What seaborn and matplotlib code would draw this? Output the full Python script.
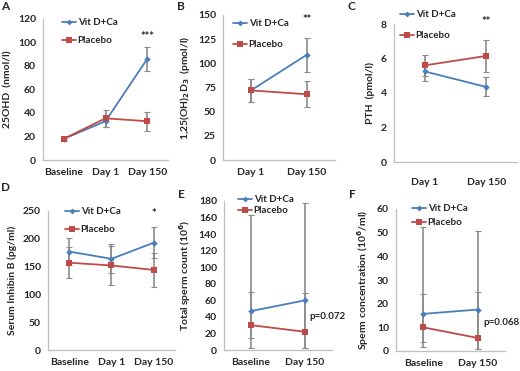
import numpy as np
import pandas as pd
import seaborn as sns
import matplotlib.pyplot as plt
from matplotlib.lines import Line2D

sns.set_style("white")
plt.rcParams['font.family'] = ['Lato', 'DejaVu Sans']
plt.rcParams['font.weight'] = 'bold'
plt.rcParams['axes.labelweight'] = 'bold'
plt.rcParams['mathtext.default'] = 'bf'

BLUE = '#4a7ebb'
RED = '#be4b48'
GREY = '#8c8c8c'
SPINE = '#bfbfbf'

# A - 25OHD
a_days = ['Baseline', 'Day 1', 'Day 150']
a_vit = [18, 33, 86]
a_vit_err = [2, 5, 10.5]
a_plc = [18, 35.5, 33]
a_plc_err = [2, 7, 8]

# B - 1,25(OH)2D3
b_days = ['Day 1', 'Day 150']
b_vit = [72, 109]
b_vit_err = [12, 17.5]
b_plc = [72, 68]
b_plc_err = [12, 13.5]

# C - PTH
c_days = ['Day 1', 'Day 150']
c_vit = [5.25, 4.35]
c_vit_err = [0.55, 0.55]
c_plc = [5.6, 6.15]
c_plc_err = [0.6, 0.95]

# D - Inhibin B
d_days = ['Baseline', 'Day 1', 'Day 150']
d_vit = [177, 164, 193]
d_vit_err = [25, 26, 28]
d_plc = [157, 152, 144]
d_plc_err = [28, 35, 30]

# E - total sperm count (asymmetric bars)
e_days = ['Baseline', 'Day 150']
e_vit = [47, 60]
e_vit_lo = [3, 3]
e_vit_hi = [163, 177]
e_plc = [30, 22]
e_plc_lo = [15, 3]
e_plc_hi = [70, 69]

# F - sperm concentration (asymmetric bars)
f_days = ['Baseline', 'Day 150']
f_vit = [15.7, 17.5]
f_vit_lo = [1.5, 1]
f_vit_hi = [52.5, 50.5]
f_plc = [10, 5.5]
f_plc_lo = [4, 1]
f_plc_hi = [24, 25]

fig = plt.figure(figsize=(5.2, 3.71), dpi=100)
W, H = 520, 371
FS = 7.5
LFS = 7


def px_axes(x0, y0, x1, y1):
    return fig.add_axes([x0 / W, 1 - y1 / H, (x1 - x0) / W, (y1 - y0) / H])


def panel(ax, days, vit, vit_lo, vit_hi, plc, plc_lo, plc_hi, ymax, ystep, ylabel,
          leg_xy, leg_space, xpad=5.5):
    n = len(days)
    pos = np.arange(n)
    df = pd.DataFrame({
        'x': np.concatenate([pos, pos]),
        'y': list(vit) + list(plc),
        'grp': ['Vit D+Ca'] * n + ['Placebo'] * n,
    })
    for m, lo, hi in [(vit, vit_lo, vit_hi), (plc, plc_lo, plc_hi)]:
        m = np.array(m)
        yerr = [m - np.array(lo), np.array(hi) - m]
        ax.errorbar(pos, m, yerr=yerr, fmt='none', ecolor=GREY, elinewidth=1.2,
                    capsize=2.5, capthick=0.8, zorder=1)
    sns.lineplot(data=df, x='x', y='y', hue='grp', style='grp',
                 palette={'Vit D+Ca': BLUE, 'Placebo': RED},
                 markers={'Vit D+Ca': 'D', 'Placebo': 's'},
                 dashes=False, linewidth=1.3, ax=ax, zorder=3,
                 markeredgewidth=0, legend=False)
    for line in ax.lines:
        if line.get_marker() == 's':
            line.set_markersize(5)
        elif line.get_marker() == 'D':
            line.set_markersize(3.3)
    ax.set_xlim(-0.5, n - 0.5)
    ax.set_ylim(0, ymax)
    ax.set_yticks(np.arange(0, ymax + ystep / 2, ystep))
    ax.set_xticks(pos)
    ax.set_xticklabels(days)
    ax.set_xticks(np.arange(-0.5, n), minor=True)
    ax.tick_params(axis='x', which='major', length=0, pad=xpad, labelsize=FS)
    ax.tick_params(axis='x', which='minor', length=3, color=SPINE, direction='out')
    ax.tick_params(axis='y', length=3, color=SPINE, direction='out', labelsize=FS, pad=2)
    ax.set_xlabel('')
    ax.set_ylabel(ylabel, fontsize=FS)
    for s in ['top', 'right']:
        ax.spines[s].set_visible(False)
    for s in ['left', 'bottom']:
        ax.spines[s].set_color(SPINE)
        ax.spines[s].set_linewidth(0.9)
    handles = [Line2D([], [], color=BLUE, lw=1.3, marker='D', markersize=3, markeredgewidth=0),
               Line2D([], [], color=RED, lw=1.3, marker='s', markersize=4.5, markeredgewidth=0)]
    ax.legend(handles, ['Vit D+Ca', 'Placebo'], loc='upper left', frameon=False,
              bbox_to_anchor=(leg_xy[0] / W, 1 - leg_xy[1] / H),
              bbox_transform=fig.transFigure, borderpad=0, borderaxespad=0,
              handlelength=1.45, handletextpad=0.15, labelspacing=leg_space,
              prop={'size': LFS, 'weight': 'bold'})


def span(vals, errs):
    v = np.array(vals)
    e = np.array(errs)
    return v - e, v + e


ax = px_axes(43, 19, 168, 160)
lo1, hi1 = span(a_vit, a_vit_err)
lo2, hi2 = span(a_plc, a_plc_err)
panel(ax, a_days, a_vit, lo1, hi1, a_plc, lo2, hi2, 120, 20, '25OHD  (nmol/l)',
      (62, 18), 0.95)
ax.text(2, 105, '***', ha='center', va='center', fontsize=8)

ax = px_axes(223, 15, 335, 160)
lo1, hi1 = span(b_vit, b_vit_err)
lo2, hi2 = span(b_plc, b_plc_err)
panel(ax, b_days, b_vit, lo1, hi1, b_plc, lo2, hi2, 150, 25,
      '1,25(OH)$_2$D$_3$  (pmol/l)', (233, 19), 1.25)
ax.text(1, 145, '**', ha='center', va='center', fontsize=8)

ax = px_axes(394, 24, 517, 162)
lo1, hi1 = span(c_vit, c_vit_err)
lo2, hi2 = span(c_plc, c_plc_err)
panel(ax, c_days, c_vit, lo1, hi1, c_plc, lo2, hi2, 8, 2, 'PTH  (pmol/l)',
      (400, 10), 1.25, xpad=11.5)
ax.text(1, 8.15, '**', ha='center', va='center', fontsize=8)

ax = px_axes(48, 211, 175, 350)
lo1, hi1 = span(d_vit, d_vit_err)
lo2, hi2 = span(d_plc, d_plc_err)
panel(ax, d_days, d_vit, lo1, hi1, d_plc, lo2, hi2, 250, 50, 'Serum Inhibin B (pg/ml)',
      (65, 207), 0.95)
ax.text(2, 246, '*', ha='center', va='center', fontsize=8)

ax = px_axes(224, 201, 332, 350)
panel(ax, e_days, e_vit, e_vit_lo, e_vit_hi, e_plc, e_plc_lo, e_plc_hi, 180, 20,
      'Total sperm count (10$^6$)', (238, 195), 0.25)
ax.text(1.08, 40, 'p=0.072', ha='left', va='center', fontsize=7)

ax = px_axes(396, 209, 505, 351)
panel(ax, f_days, f_vit, f_vit_lo, f_vit_hi, f_plc, f_plc_lo, f_plc_hi, 60, 10,
      'Sperm concentration (10$^6$/ml)', (412, 204), 0.55)
ax.text(1.1, 12, 'p=0.068', ha='left', va='center', fontsize=7)

for lab, x, y in [('A', 1, 1), ('B', 177, 1), ('C', 347, 1),
                  ('D', 1, 182), ('E', 178, 189), ('F', 349, 189)]:
    fig.text(x / W, 1 - y / H, lab, ha='left', va='top', fontsize=8.5, fontweight='bold')

fig.savefig('out.png', dpi=100)
